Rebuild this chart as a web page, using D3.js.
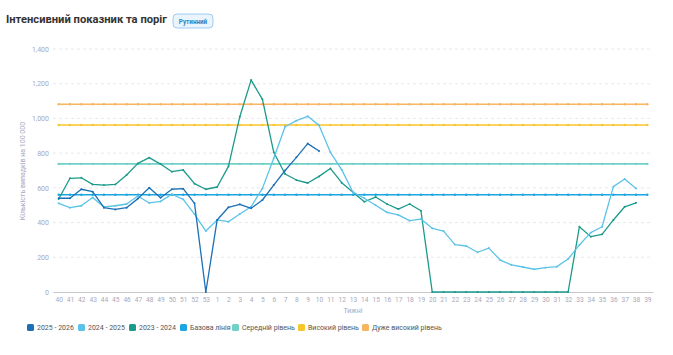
<!DOCTYPE html>
<html><head><meta charset="utf-8">
<script src="https://cdn.jsdelivr.net/npm/d3@7"></script>
<style>body{margin:0;background:#fff;}svg{display:block;font-family:Roboto,"Noto Sans",sans-serif;}</style>
</head><body>
<svg id="chart" width="673" height="355"></svg>
<script>
const weeks = ["40","41","42","43","44","45","46","47","48","49","50","51","52","53",
  "1","2","3","4","5","6","7","8","9","10","11","12","13","14","15","16","17","18","19","20",
  "21","22","23","24","25","26","27","28","29","30","31","32","33","34","35","36","37","38","39"];
const yTicks = [0,200,400,600,800,1000,1200,1400];

const s2025 = [540,540,592,578,486,476,486,538,601,543,592,595,511,0,
  415,488,505,482,530,616,700,776,855,812];
const s2024 = [511,486,497,545,490,497,507,553,513,522,563,534,449,351,
  415,405,449,491,597,770,952,987,1012,960,805,705,575,540,500,459,444,411,420,367,
  351,273,265,229,253,184,156,144,131,140,146,190,271,342,376,607,651,597];
const s2023 = [536,655,658,620,616,620,674,741,774,737,693,703,624,592,
  605,724,1010,1221,1110,805,680,645,628,666,712,630,575,520,547,507,478,507,468,0,
  0,0,0,0,0,0,0,0,0,0,0,0,376,319,332,415,491,514];

const baseline = 560, midLevel = 738, highLevel = 962, veryHighLevel = 1082;

const seriesNames = ["2025 - 2026","2024 - 2025","2023 - 2024"];
const thresholdNames = ["Базова лінія","Середній рівень","Високий рівень","Дуже високий рівень"];
const seriesColors = ["#1c70b6","#5cc3e8","#1a9a8a"];
const thresholdColors = ["#1aa6e0","#72d0c8","#f8c62a","#f8b45e"];

const svg = d3.select("#chart");
const x = d3.scalePoint().domain(weeks).range([53,653]).padding(0.5);
const y = d3.scaleLinear().domain([0,1400]).range([292,49]);

// title
svg.append("text").attr("x",6).attr("y",23).attr("font-size",11.2).attr("font-weight",700)
  .attr("fill","#333").text("Інтенсивний показник та поріг");
const badge = svg.append("g").attr("transform","translate(173,14)");
badge.append("rect").attr("width",40).attr("height",14).attr("rx",4)
  .attr("fill","#eaf4fc").attr("stroke","#8ac3ec").attr("stroke-width",0.8);
badge.append("text").attr("x",20).attr("y",9.6).attr("text-anchor","middle")
  .attr("font-size",6.3).attr("font-weight",700).attr("fill","#2c87c6").text("Рутинний");

// grid
svg.append("g").selectAll("line").data(yTicks.filter(d=>d>0)).join("line")
  .attr("x1",53).attr("x2",653).attr("y1",d=>y(d)).attr("y2",d=>y(d))
  .attr("stroke","#e2e2ea").attr("stroke-width",0.8).attr("stroke-dasharray","3,3");

// y axis
const yAxis = svg.append("g").attr("transform","translate(53,0)")
  .call(d3.axisLeft(y).tickValues(yTicks).tickSize(0).tickPadding(4).tickFormat(d3.format(",")));
yAxis.select(".domain").remove();
yAxis.selectAll("text").attr("fill","#a8a8b8").attr("font-size",7).attr("font-family","Roboto,sans-serif");

// x axis
const xAxis = svg.append("g").attr("transform","translate(0,292)")
  .call(d3.axisBottom(x).tickSize(0).tickPadding(5));
xAxis.select(".domain").attr("stroke","#c8c8cc").attr("stroke-width",1.2);
xAxis.selectAll("text").attr("fill","#a8a8b8").attr("font-size",6.6).attr("font-family","Roboto,sans-serif");

svg.append("text").attr("x",353).attr("y",313).attr("text-anchor","middle")
  .attr("font-size",7).attr("fill","#a8a8b8").text("Тижні");
svg.append("text").attr("transform","translate(25,171) rotate(-90)").attr("text-anchor","middle")
  .attr("font-size",7).attr("fill","#a8a8c4").text("Кількість випадків на 100 000");

const line = d3.line().x(d=>x(d.w)).y(d=>y(d.v));

// thresholds
[baseline, midLevel, highLevel, veryHighLevel].forEach((lv,i)=>{
  const pts = weeks.map(w=>({w, v: lv}));
  const g = svg.append("g");
  g.append("path").datum(pts).attr("d",line).attr("fill","none")
    .attr("stroke",thresholdColors[i]).attr("stroke-width",1.6);
  g.selectAll("circle").data(pts).join("circle").attr("cx",d=>x(d.w)).attr("cy",d=>y(d.v))
    .attr("r",1.2).attr("fill",thresholdColors[i]);
});

// series (draw oldest first)
[[s2023,2],[s2024,1],[s2025,0]].forEach(([arr,i])=>{
  const pts = arr.map((v,k)=>({w: weeks[k], v}));
  const g = svg.append("g");
  g.append("path").datum(pts).attr("d",line).attr("fill","none")
    .attr("stroke",seriesColors[i]).attr("stroke-width",1.3).attr("stroke-linejoin","round");
  g.selectAll("circle").data(pts).join("circle").attr("cx",d=>x(d.w)).attr("cy",d=>y(d.v))
    .attr("r",1).attr("fill",seriesColors[i]);
});

// legend
const legendItems = seriesNames.map((n,i)=>({n,c:seriesColors[i]}))
  .concat(thresholdNames.map((n,i)=>({n,c:thresholdColors[i]})));
const legX = [27,78,129,180,232,298,362];
const lg = svg.append("g");
legendItems.forEach((it,i)=>{
  const g = lg.append("g").attr("transform",`translate(${legX[i]},324)`);
  g.append("rect").attr("width",7).attr("height",7).attr("rx",1.5).attr("fill",it.c);
  g.append("text").attr("x",10).attr("y",6.3).attr("font-size",7).attr("fill","#555").text(it.n);
});
</script>
</body></html>
